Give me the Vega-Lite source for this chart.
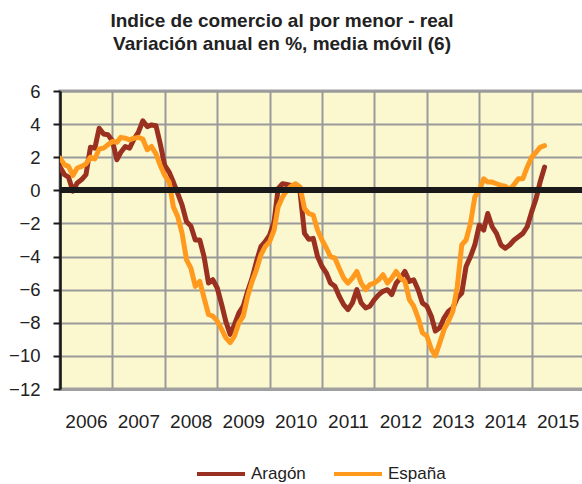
{
  "$schema": "https://vega.github.io/schema/vega-lite/v6.json",
  "width": 524,
  "height": 298,
  "autosize": {"type": "none"},
  "padding": {"left": 60, "top": 91, "right": 0, "bottom": 95},
  "background": "white",
  "config": {
    "font": "Liberation Sans",
    "view": {"fill": "#FBF8D0", "stroke": "#A0A0A0", "strokeWidth": 3},
    "axis": {"labelFont": "Liberation Sans", "labelColor": "#222222", "labelFontSize": 19},
    "axisY": {
      "values": [-12, -10, -8, -6, -4, -2, 0, 2, 4, 6],
      "grid": true,
      "gridColor": "#9A9A9A",
      "gridWidth": 2,
      "domainColor": "#1A1A1A",
      "domainWidth": 2.5,
      "tickColor": "#1A1A1A",
      "tickWidth": 2,
      "tickSize": 7,
      "labelPadding": 13,
      "labelFlush": false,
      "labelOverlap": false,
      "labelFontSize": 18.5
    }
  },
  "title": {
    "text": ["Indice de comercio al por menor - real", "Variación anual en %, media móvil (6)"],
    "fontSize": 19,
    "fontWeight": "bold",
    "font": "Liberation Sans",
    "color": "#222222",
    "anchor": "middle",
    "frame": "group",
    "dx": -40,
    "offset": 28,
    "lineHeight": 23
  },
  "data": {
    "values": [
      {"d":"2006-01-01","Aragón":1.4,"España":1.95},
      {"d":"2006-02-01","Aragón":0.95,"España":1.55},
      {"d":"2006-03-01","Aragón":0.8,"España":1.45},
      {"d":"2006-04-01","Aragón":-0.05,"España":0.9},
      {"d":"2006-05-01","Aragón":0.45,"España":1.35},
      {"d":"2006-06-01","Aragón":0.65,"España":1.45},
      {"d":"2006-07-01","Aragón":0.95,"España":1.6},
      {"d":"2006-08-01","Aragón":2.6,"España":2.0},
      {"d":"2006-09-01","Aragón":2.55,"España":1.9},
      {"d":"2006-10-01","Aragón":3.75,"España":2.5},
      {"d":"2006-11-01","Aragón":3.4,"España":2.55},
      {"d":"2006-12-01","Aragón":3.36,"España":2.75},
      {"d":"2007-01-01","Aragón":3.0,"España":2.95},
      {"d":"2007-02-01","Aragón":1.85,"España":2.9},
      {"d":"2007-03-01","Aragón":2.3,"España":3.2},
      {"d":"2007-04-01","Aragón":2.65,"España":3.15},
      {"d":"2007-05-01","Aragón":2.55,"España":3.05},
      {"d":"2007-06-01","Aragón":3.1,"España":3.15},
      {"d":"2007-07-01","Aragón":3.5,"España":3.2},
      {"d":"2007-08-01","Aragón":4.2,"España":3.1},
      {"d":"2007-09-01","Aragón":3.85,"España":2.45},
      {"d":"2007-10-01","Aragón":3.95,"España":2.65},
      {"d":"2007-11-01","Aragón":3.9,"España":2.2},
      {"d":"2007-12-01","Aragón":2.8,"España":1.5},
      {"d":"2008-01-01","Aragón":1.5,"España":0.9},
      {"d":"2008-02-01","Aragón":1.1,"España":0.5},
      {"d":"2008-03-01","Aragón":0.5,"España":-1.0},
      {"d":"2008-04-01","Aragón":-0.2,"España":-1.6},
      {"d":"2008-05-01","Aragón":-0.9,"España":-2.6},
      {"d":"2008-06-01","Aragón":-1.9,"España":-4.2},
      {"d":"2008-07-01","Aragón":-2.15,"España":-4.7},
      {"d":"2008-08-01","Aragón":-3.0,"España":-5.8},
      {"d":"2008-09-01","Aragón":-3.0,"España":-5.5},
      {"d":"2008-10-01","Aragón":-4.0,"España":-6.5},
      {"d":"2008-11-01","Aragón":-5.6,"España":-7.5},
      {"d":"2008-12-01","Aragón":-5.4,"España":-7.6},
      {"d":"2009-01-01","Aragón":-5.9,"España":-7.9},
      {"d":"2009-02-01","Aragón":-6.9,"España":-8.4},
      {"d":"2009-03-01","Aragón":-7.9,"España":-8.9},
      {"d":"2009-04-01","Aragón":-8.7,"España":-9.2},
      {"d":"2009-05-01","Aragón":-8.1,"España":-8.8},
      {"d":"2009-06-01","Aragón":-7.4,"España":-8.0},
      {"d":"2009-07-01","Aragón":-7.0,"España":-7.6},
      {"d":"2009-08-01","Aragón":-6.1,"España":-6.4},
      {"d":"2009-09-01","Aragón":-5.3,"España":-5.5},
      {"d":"2009-10-01","Aragón":-4.3,"España":-4.8},
      {"d":"2009-11-01","Aragón":-3.4,"España":-3.9},
      {"d":"2009-12-01","Aragón":-3.1,"España":-3.4},
      {"d":"2010-01-01","Aragón":-2.7,"España":-3.1},
      {"d":"2010-02-01","Aragón":-1.9,"España":-2.4},
      {"d":"2010-03-01","Aragón":0.1,"España":-1.0},
      {"d":"2010-04-01","Aragón":0.4,"España":-0.4},
      {"d":"2010-05-01","Aragón":0.35,"España":0.0},
      {"d":"2010-06-01","Aragón":0.3,"España":0.25},
      {"d":"2010-07-01","Aragón":0.2,"España":0.4},
      {"d":"2010-08-01","Aragón":-0.1,"España":0.2},
      {"d":"2010-09-01","Aragón":-2.6,"España":-1.1},
      {"d":"2010-10-01","Aragón":-2.95,"España":-1.4},
      {"d":"2010-11-01","Aragón":-2.9,"España":-1.5},
      {"d":"2010-12-01","Aragón":-4.0,"España":-2.4},
      {"d":"2011-01-01","Aragón":-4.6,"España":-3.0},
      {"d":"2011-02-01","Aragón":-5.0,"España":-3.5},
      {"d":"2011-03-01","Aragón":-5.6,"España":-4.0},
      {"d":"2011-04-01","Aragón":-5.8,"España":-4.1},
      {"d":"2011-05-01","Aragón":-6.4,"España":-4.7},
      {"d":"2011-06-01","Aragón":-6.9,"España":-5.3},
      {"d":"2011-07-01","Aragón":-7.2,"España":-5.6},
      {"d":"2011-08-01","Aragón":-6.8,"España":-5.3},
      {"d":"2011-09-01","Aragón":-6.0,"España":-4.9},
      {"d":"2011-10-01","Aragón":-6.8,"España":-5.6},
      {"d":"2011-11-01","Aragón":-7.1,"España":-6.0},
      {"d":"2011-12-01","Aragón":-7.0,"España":-5.7},
      {"d":"2012-01-01","Aragón":-6.6,"España":-5.6},
      {"d":"2012-02-01","Aragón":-6.3,"España":-5.4},
      {"d":"2012-03-01","Aragón":-6.1,"España":-5.1},
      {"d":"2012-04-01","Aragón":-6.0,"España":-5.6},
      {"d":"2012-05-01","Aragón":-6.3,"España":-5.3},
      {"d":"2012-06-01","Aragón":-5.6,"España":-4.9},
      {"d":"2012-07-01","Aragón":-5.3,"España":-5.3},
      {"d":"2012-08-01","Aragón":-4.9,"España":-5.5},
      {"d":"2012-09-01","Aragón":-5.5,"España":-6.6},
      {"d":"2012-10-01","Aragón":-5.4,"España":-7.0},
      {"d":"2012-11-01","Aragón":-6.0,"España":-7.7},
      {"d":"2012-12-01","Aragón":-6.8,"España":-8.6},
      {"d":"2013-01-01","Aragón":-7.0,"España":-8.8},
      {"d":"2013-02-01","Aragón":-7.6,"España":-9.6},
      {"d":"2013-03-01","Aragón":-8.5,"España":-10.0},
      {"d":"2013-04-01","Aragón":-8.3,"España":-9.2},
      {"d":"2013-05-01","Aragón":-7.7,"España":-8.4},
      {"d":"2013-06-01","Aragón":-7.3,"España":-7.9},
      {"d":"2013-07-01","Aragón":-7.1,"España":-7.3},
      {"d":"2013-08-01","Aragón":-6.5,"España":-5.8},
      {"d":"2013-09-01","Aragón":-6.2,"España":-3.3},
      {"d":"2013-10-01","Aragón":-4.6,"España":-3.0},
      {"d":"2013-11-01","Aragón":-4.0,"España":-2.0},
      {"d":"2013-12-01","Aragón":-3.3,"España":-0.4},
      {"d":"2014-01-01","Aragón":-2.1,"España":0.0},
      {"d":"2014-02-01","Aragón":-2.4,"España":0.7},
      {"d":"2014-03-01","Aragón":-1.4,"España":0.5},
      {"d":"2014-04-01","Aragón":-2.2,"España":0.5},
      {"d":"2014-05-01","Aragón":-2.6,"España":0.4},
      {"d":"2014-06-01","Aragón":-3.3,"España":0.3},
      {"d":"2014-07-01","Aragón":-3.5,"España":0.25},
      {"d":"2014-08-01","Aragón":-3.3,"España":0.05},
      {"d":"2014-09-01","Aragón":-3.0,"España":0.35},
      {"d":"2014-10-01","Aragón":-2.8,"España":0.7},
      {"d":"2014-11-01","Aragón":-2.6,"España":0.7},
      {"d":"2014-12-01","Aragón":-2.2,"España":1.4},
      {"d":"2015-01-01","Aragón":-1.3,"España":2.0},
      {"d":"2015-02-01","Aragón":-0.5,"España":2.3},
      {"d":"2015-03-01","Aragón":0.5,"España":2.6},
      {"d":"2015-04-01","Aragón":1.4,"España":2.7}
    ]
  },
  "encoding": {
    "y": {
      "type": "quantitative",
      "scale": {"domain": [-12, 6], "nice": false, "zero": false},
      "axis": {"title": null, "values": [-12, -10, -8, -6, -4, -2, 0, 2, 4, 6]}
    }
  },
  "layer": [
    {
      "transform": [{"fold": ["Aragón", "España"], "as": ["serie", "valor"]}],
      "mark": {"type": "line", "strokeWidth": 5, "strokeJoin": "round", "strokeCap": "round", "clip": true},
      "encoding": {
        "x": {
          "field": "d",
          "type": "temporal",
          "scale": {"type": "utc", "domain": [{"year": 2006, "month": 1, "date": 1, "utc": true}, {"year": 2016, "month": 1, "date": 1, "utc": true}]},
          "axis": {
            "title": null,
            "values": [
              {"year": 2006, "month": 1, "date": 1, "utc": true},
              {"year": 2007, "month": 1, "date": 1, "utc": true},
              {"year": 2008, "month": 1, "date": 1, "utc": true},
              {"year": 2009, "month": 1, "date": 1, "utc": true},
              {"year": 2010, "month": 1, "date": 1, "utc": true},
              {"year": 2011, "month": 1, "date": 1, "utc": true},
              {"year": 2012, "month": 1, "date": 1, "utc": true},
              {"year": 2013, "month": 1, "date": 1, "utc": true},
              {"year": 2014, "month": 1, "date": 1, "utc": true},
              {"year": 2015, "month": 1, "date": 1, "utc": true}
            ],
            "format": "%Y",
            "labelOffset": 26,
            "labelPadding": 23,
            "labelFlush": false,
            "labelOverlap": false,
            "ticks": false,
            "grid": true,
            "gridColor": "#9A9A9A",
            "gridWidth": 2,
            "domainColor": "#A0A0A0",
            "domainWidth": 3
          }
        },
        "y": {"field": "valor", "type": "quantitative"},
        "color": {
          "field": "serie",
          "type": "nominal",
          "scale": {"domain": ["Aragón", "España"], "range": ["#9A3020", "#FF9A1E"]},
          "legend": {
            "title": null,
            "orient": "none",
            "direction": "horizontal",
            "legendX": 135,
            "legendY": 357,
            "symbolType": "stroke",
            "symbolSize": 2304,
            "symbolStrokeWidth": 4,
            "labelFontSize": 17,
            "labelFont": "Liberation Sans",
            "labelColor": "#222222",
            "labelOffset": 4,
            "columnPadding": 20
          }
        }
      }
    },
    {
      "mark": {"type": "rule", "color": "#1A1A1A", "strokeWidth": 5},
      "encoding": {"y": {"datum": 0, "type": "quantitative"}}
    }
  ]
}
